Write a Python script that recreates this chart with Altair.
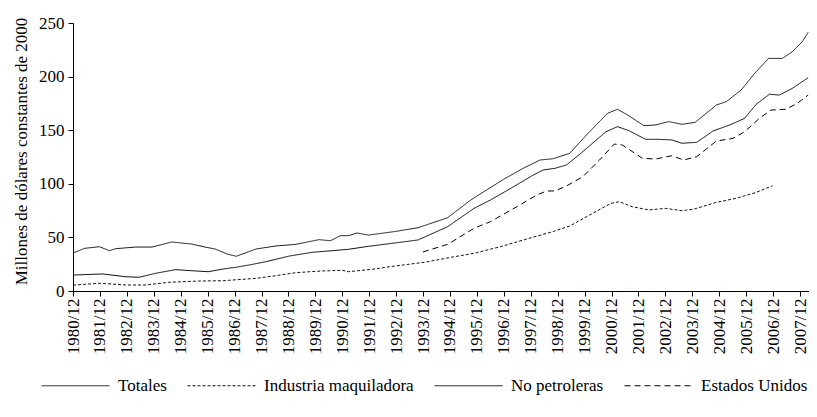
import altair as alt
import pandas as pd

# Decimal-year positions and values (millions of constant 2000 dollars)
t_totales = [1980.92, 1981.35, 1981.90, 1982.27, 1982.51, 1983.25, 1983.85, 1984.58, 1985.32, 1985.82,
             1986.19, 1986.68, 1986.98, 1987.72, 1988.45, 1989.19, 1990.05, 1990.48, 1990.84, 1991.15,
             1991.46, 1991.89, 1992.38, 1992.87, 1993.73, 1994.83, 1995.69, 1996.17, 1996.91, 1997.64,
             1998.26, 1998.75, 1999.36, 2000.10, 2000.77, 2001.14, 2001.51, 2002.12, 2002.55, 2003.04,
             2003.53, 2004.02, 2004.81, 2005.18, 2005.73, 2006.23, 2006.75, 2007.26, 2007.63, 2008.00,
             2008.22]
v_totales = [35.5, 39.8, 41.3, 37.6, 39.5, 41.0, 41.0, 45.7, 43.8, 41.0,
             39.2, 34.2, 32.4, 39.2, 42.0, 43.5, 47.9, 46.9, 51.6, 51.6,
             54.1, 52.2, 53.8, 55.5, 59.0, 68.4, 84.9, 92.6, 104.2, 114.5,
             122.2, 123.4, 128.4, 148.6, 165.8, 169.5, 164.2, 154.2, 154.9, 158.0,
             155.5, 157.3, 173.5, 176.6, 187.5, 203.0, 217.0, 217.0, 223.2, 232.6,
             241.3]

t_nopetro = [1980.92, 1982.02, 1982.88, 1983.37, 1983.98, 1984.72, 1985.33, 1985.94, 1986.49, 1986.98,
             1987.47, 1988.09, 1988.95, 1989.80, 1990.54, 1991.15, 1991.89, 1992.87, 1993.73, 1994.83,
             1995.81, 1996.42, 1997.28, 1998.01, 1998.38, 1998.81, 1999.24, 1999.85, 2000.71, 2001.14,
             2001.57, 2002.18, 2002.67, 2003.16, 2003.53, 2004.08, 2004.69, 2005.31, 2005.86, 2006.29,
             2006.78, 2007.15, 2007.63, 2008.22]
v_nopetro = [14.9, 15.9, 13.3, 12.8, 16.5, 19.9, 18.9, 18.0, 20.5, 22.2,
             24.3, 27.4, 32.6, 36.1, 37.6, 38.9, 41.7, 44.8, 47.6, 60.0,
             77.1, 84.9, 97.3, 108.2, 112.9, 114.4, 117.5, 130.0, 148.6, 153.3,
             149.5, 141.5, 141.5, 140.9, 137.8, 138.7, 149.3, 154.9, 161.1, 174.2,
             183.5, 182.8, 189.0, 199.0]

t_maquila = [1980.92, 1981.90, 1982.88, 1983.62, 1984.47, 1985.58, 1986.49, 1987.72, 1988.45, 1989.19,
             1990.17, 1990.91, 1991.15, 1992.01, 1992.87, 1993.97, 1994.95, 1995.81, 1996.79, 1997.64,
             1998.75, 1999.36, 2000.22, 2000.90, 2001.20, 2001.69, 2002.30, 2002.92, 2003.53, 2003.96,
             2004.81, 2005.55, 2006.29, 2006.90]
v_maquila = [5.5, 7.2, 5.6, 5.6, 8.1, 9.3, 9.6, 11.8, 14.3, 17.1,
             18.7, 19.3, 18.0, 20.2, 23.3, 26.8, 31.4, 35.2, 41.3, 47.6,
             55.5, 60.6, 72.5, 81.8, 83.3, 78.6, 75.6, 77.1, 74.9, 76.3,
             82.7, 86.5, 92.0, 98.2]

t_eeuu = [1993.91, 1994.83, 1995.81, 1996.42, 1997.40, 1998.14, 1998.51, 1998.81, 1999.24, 1999.85,
          2000.47, 2001.02, 2001.32, 2002.06, 2002.55, 2003.16, 2003.59, 2004.08, 2004.81, 2005.43,
          2005.86, 2006.41, 2006.84, 2007.39, 2007.82, 2008.22]
v_eeuu = [36.4, 43.5, 58.5, 64.7, 78.6, 89.6, 93.3, 93.3, 97.9, 106.6,
          122.2, 137.1, 136.2, 123.8, 123.1, 126.2, 122.2, 125.3, 139.9, 142.4,
          148.6, 161.1, 168.8, 169.5, 175.1, 182.8]

series = ["Totales", "Industria maquiladora", "No petroleras", "Estados Unidos"]
tick_years = list(range(1980, 2008))
y_ticks = [0, 50, 100, 150, 200, 250]

rows = []
for name, ts, vs in [("Totales", t_totales, v_totales),
                     ("Industria maquiladora", t_maquila, v_maquila),
                     ("No petroleras", t_nopetro, v_nopetro),
                     ("Estados Unidos", t_eeuu, v_eeuu)]:
    for t, v in zip(ts, vs):
        rows.append({"serie": name, "t": t, "valor": v})
df = pd.DataFrame(rows)

FONT = "Liberation Serif"

legend = alt.Legend(
    title=None, orient="none", direction="horizontal",
    legendX=-32, legendY=328,
    labelFont=FONT, labelFontSize=17, labelColor="black",
    symbolType="stroke", symbolSize=4624, symbolStrokeColor="black",
    labelOffset=8, columnPadding=18,
)

chart = alt.Chart(df).mark_line(color="black").encode(
    x=alt.X("t:Q",
            scale=alt.Scale(domain=[1980 + 11 / 12 - 0.001, 2008.25], nice=False, zero=False),
            axis=alt.Axis(title=None, values=[y + 11 / 12 for y in tick_years],
                          labelExpr="floor(datum.value) + '/12'",
                          labelAngle=270, labelFont=FONT, labelFontSize=17,
                          labelColor="black", labelPadding=2, tickSize=5,
                          tickColor="black", domainColor="black", grid=False,
                          labelOverlap=False, labelFlush=False)),
    y=alt.Y("valor:Q",
            scale=alt.Scale(domain=[0, 250], nice=False),
            axis=alt.Axis(title="Millones de dólares constantes de 2000",
                          values=y_ticks, labelFont=FONT, labelFontSize=17,
                          labelColor="black", labelPadding=4, tickSize=5,
                          tickColor="black", domainColor="black", grid=False,
                          titleFont=FONT, titleFontSize=17, titleFontWeight="normal",
                          titleColor="black", titlePadding=8, titleY=128)),
    strokeDash=alt.StrokeDash("serie:N",
                              scale=alt.Scale(domain=series,
                                              range=[[1, 0], [3, 2], [1, 0], [6, 4]]),
                              legend=legend),
    strokeWidth=alt.StrokeWidth("serie:N",
                                scale=alt.Scale(domain=series, range=[0.9, 1.0, 1.8, 1.2]),
                                legend=legend),
    detail="serie:N",
    order="t:Q",
).properties(
    width=736, height=268,
    background="white",
    autosize=alt.AutoSizeParams(type="none"),
    padding={"left": 65, "top": 15, "right": 0, "bottom": 105},
).configure_view(stroke=None)

chart.save("out.html", embed_options={"renderer": "svg", "actions": False})
